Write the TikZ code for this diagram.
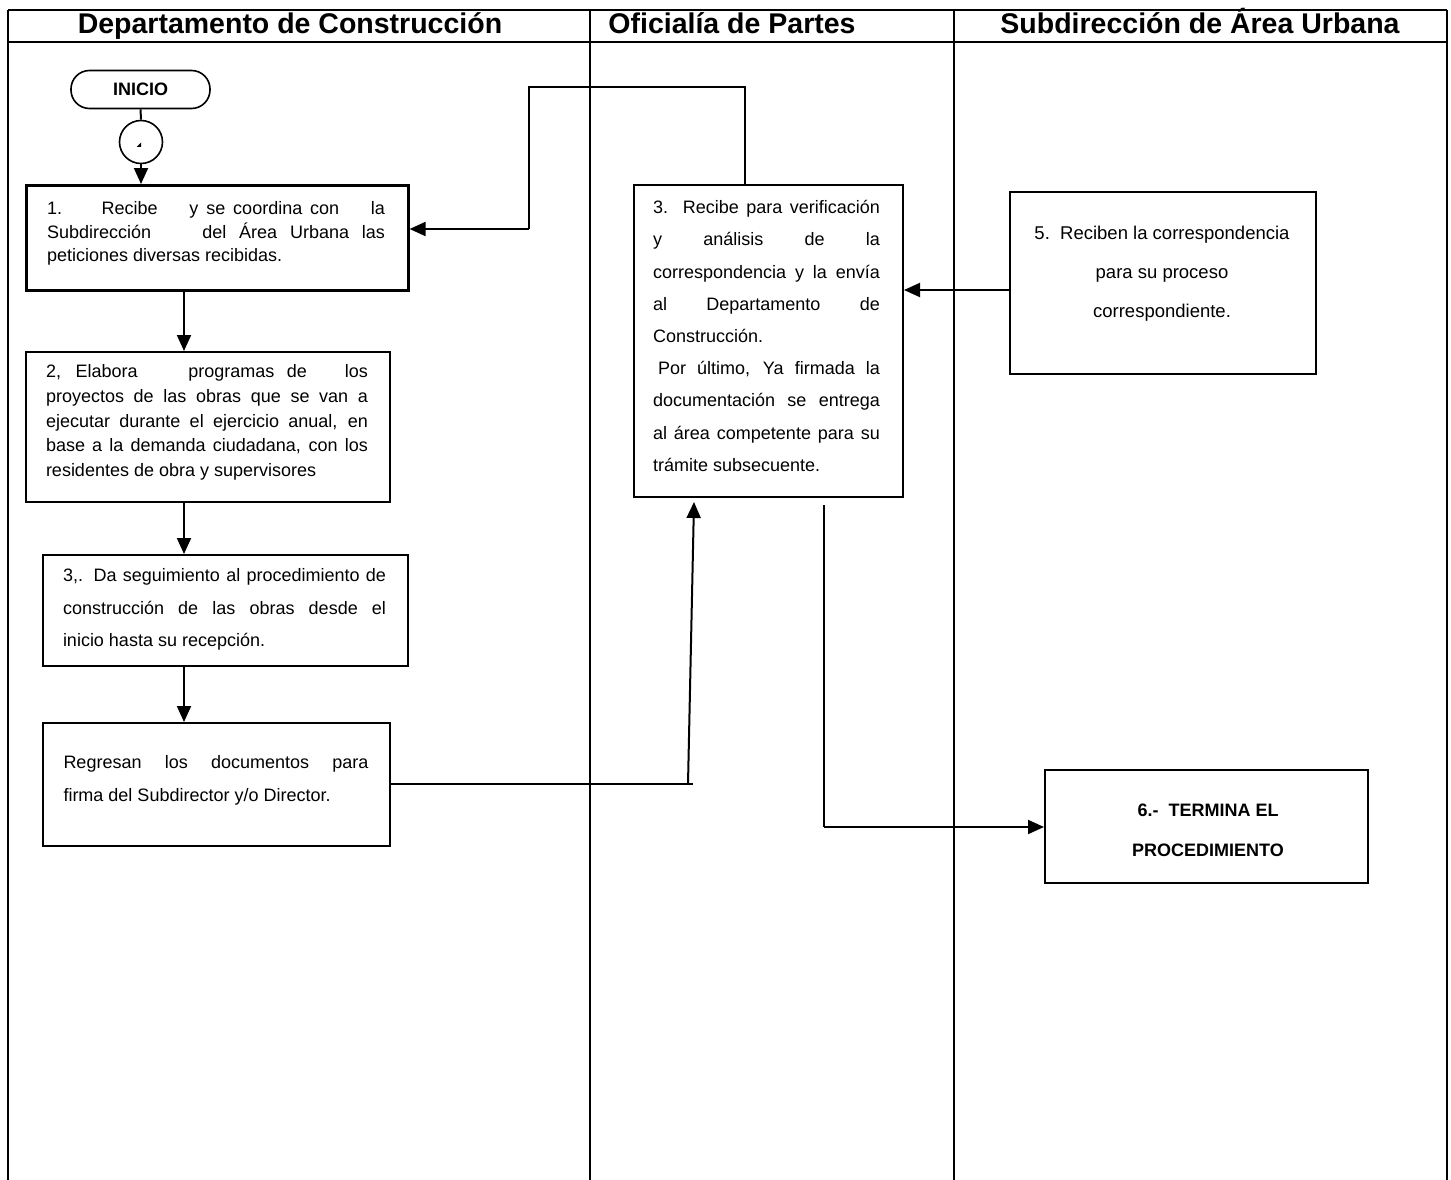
\documentclass[tikz,border=0pt]{standalone}
\usepackage{fontspec}
\setmainfont{Liberation Sans}
\usetikzlibrary{arrows.meta}
\newcommand{\jl}[1]{\makebox[\linewidth][s]{#1}}
\newcommand{\lf}[1]{\makebox[\linewidth][l]{#1}}
\begin{document}
\begin{tikzpicture}[x=1pt,y=-1pt,
  lane/.style={line width=2pt},
  box/.style={draw, line width=2pt, inner sep=0pt, anchor=north west},
  txt/.style={inner sep=0pt},
  conn/.style={line width=2pt},
  thinconn/.style={line width=1.6pt},
  arr/.style={conn, -{Triangle[length=16pt,width=14pt]}},
  hdr/.style={inner sep=0pt, anchor=base, font=\fontsize{28.5}{30}\selectfont\bfseries}]
\useasboundingbox (0,0) rectangle (1451,1180);
% swimlane frame
\draw[lane] (8,10) -- (1447,10);
\draw[lane] (8,42) -- (1447,42);
\draw[lane] (8,10) -- (8,1180);
\draw[lane] (590,10) -- (590,1180);
\draw[lane] (954,10) -- (954,1180);
\draw[lane] (1447,10) -- (1447,1180);
\node[hdr] (h1) at (290,34) {Departamento de Construcción};
\node[hdr] (h2) at (732,34) {Oficialía de Partes};
\node[hdr] (h3) at (1200,34) {Subdirección de Área Urbana};
% start
\node[draw, line width=1.6pt, rounded corners=18.5pt, minimum width=139pt, minimum height=38pt,
  font=\fontsize{18}{20}\selectfont\bfseries] (ini) at (140.5,89.5) {INICIO};
\node[draw, circle, line width=1.6pt, minimum size=43pt, inner sep=0pt] (c0) at (141,142) {};
\fill (136.5,147) -- (141,142.5) -- (141,147) -- cycle;
% boxes
\node[box, line width=2.6pt, minimum width=382pt, minimum height=105pt] (b1) at (25,184) {};
\node[box, minimum width=364pt, minimum height=150pt] (b2) at (25,351) {};
\node[box, minimum width=365pt, minimum height=111pt] (b3) at (42,554) {};
\node[box, minimum width=347pt, minimum height=123pt] (b4) at (42,722) {};
\node[box, minimum width=269pt, minimum height=312pt] (bO) at (633,184) {};
\node[box, minimum width=306pt, minimum height=182pt] (b5) at (1009,191) {};
\node[box, minimum width=323pt, minimum height=113pt] (b6) at (1044,769) {};
% texts
\node[txt, font=\fontsize{18}{23.5}\selectfont] (t1) at (216,233.5) {\parbox{338pt}{%
\jl{1.\ \ \ \ \ Recibe \ \ \ y se coordina con \ \ \ la}\\
\jl{Subdirección \ \ \ del Área Urbana las}\\
\lf{peticiones diversas recibidas.}}};
\node[txt, font=\fontsize{18}{24.75}\selectfont] (t2) at (207,422.5) {\parbox{322pt}{%
\jl{2, Elabora \ \ \ programas de \ \ los}\\
\jl{proyectos de las obras que se van a}\\
\jl{ejecutar durante el ejercicio anual, en}\\
\jl{base a la demanda ciudadana, con los}\\
\lf{residentes de obra y supervisores}}};
\node[txt, font=\fontsize{18}{32.5}\selectfont] (t3) at (224.5,609.5) {\parbox{323pt}{%
\jl{3,. Da seguimiento al procedimiento de}\\
\jl{construcción de las obras desde el}\\
\lf{inicio hasta su recepción.}}};
\node[txt, font=\fontsize{18}{33}\selectfont] (t4) at (216,780.5) {\parbox{305pt}{%
\jl{Regresan los documentos para}\\
\lf{firma del Subdirector y/o Director.}}};
\node[txt, font=\fontsize{18}{32.2}\selectfont] (tO) at (766.5,336) {\parbox{227pt}{%
\jl{3.\ \ Recibe para verificación}\\
\jl{y análisis de la}\\
\jl{correspondencia y la envía}\\
\jl{al Departamento de}\\
\lf{Construcción.}\\
\jl{\hspace*{5pt}Por último, Ya firmada la}\\
\jl{documentación se entrega}\\
\jl{al área competente para su}\\
\lf{trámite subsecuente.}}};
\node[txt, font=\fontsize{18.5}{39}\selectfont, align=center] (t5) at (1162,274) {5.\ \ Reciben la correspondencia\\para su proceso\\correspondiente.};
\node[txt, font=\fontsize{18}{40}\selectfont\bfseries, align=center] (t6) at (1208,830) {6.-\ \ TERMINA EL\\PROCEDIMIENTO};
% connectors
\draw[conn] (ini.south) -- (c0.north);
\draw[arr] (c0.south) -- (c0.south |- b1.north);
\draw[arr] (b1.south -| 184,0) -- (b2.north -| 184,0);
\draw[arr] (b2.south -| 184,0) -- (b3.north -| 184,0);
\draw[arr] (b3.south -| 184,0) -- (b4.north -| 184,0);
% from Oficialia back to box 1
\coordinate (ra) at (745,87);
\coordinate (rb) at (529,87);
\coordinate (rc) at (529,229);
\draw[thinconn] (ra |- bO.north) -- (ra) -- (rb) -- (rc);
\draw[arr] (rc) -- (rc -| b1.east);
% from box 5 to Oficialia
\draw[arr] (b5.west |- 0,290) -- (bO.east |- 0,290);
% from box 4 to Oficialia
\coordinate (rf) at (693,784);
\coordinate (rg) at (688,784);
\coordinate (rh) at (694,502);
\draw[thinconn] (b4.east |- rf) -- (rf);
\draw[arr] (rg) -- (rh);
% from Oficialia to end
\coordinate (rd) at (824,505);
\coordinate (re) at (824,827);
\draw[thinconn] (rd) -- (re);
\draw[arr] (re) -- (re -| b6.west);
\end{tikzpicture}
\end{document}
